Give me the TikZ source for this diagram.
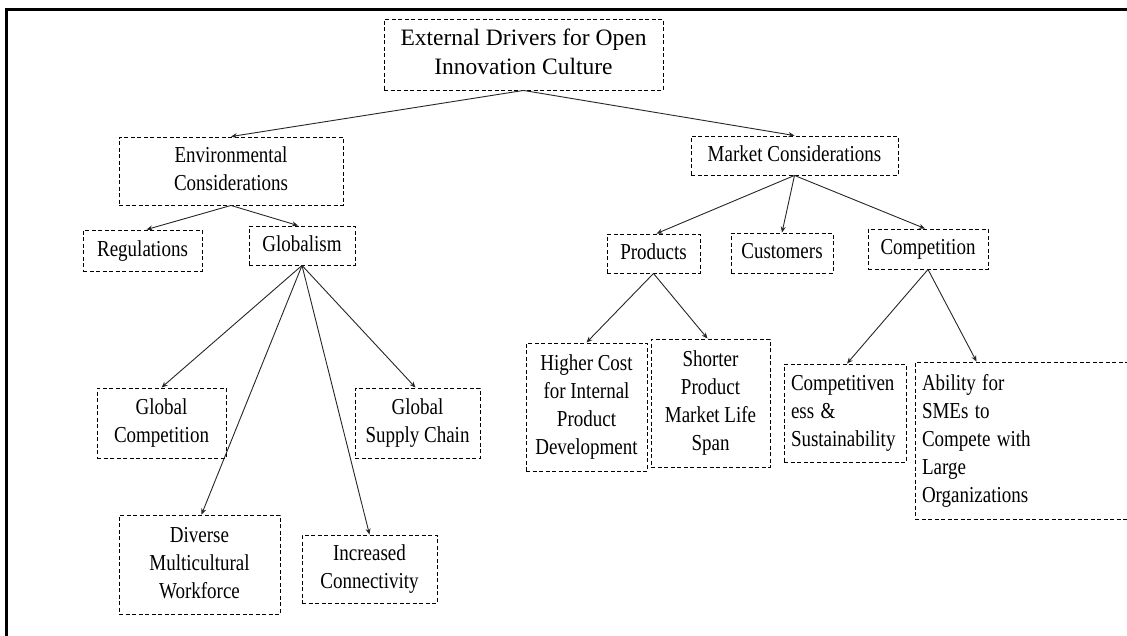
\documentclass[tikz,border=0pt]{standalone}
\usepackage{fontspec}
\setmainfont{Liberation Serif}
\usepackage{graphicx}
\usetikzlibrary{arrows.meta,calc}

% multi-line label, slightly stretched vertically
\newcommand{\stk}[2][c]{\scalebox{1}[1.2]{\begin{tabular}{@{}#1@{}}#2\end{tabular}}}

\begin{document}
\begin{tikzpicture}[x=1pt,y=-1pt,
  box/.style={draw, dash pattern=on 4pt off 2.5pt, line width=0.9pt,
    inner sep=0pt, font=\fontsize{19}{23.3}\selectfont},
  rootbox/.style={box, font=\fontsize{23.5}{28.5}\selectfont},
  lbox/.style={box, align=left, inner xsep=7pt},
  link/.style={-{Stealth[length=6pt,width=5pt]}, line width=0.9pt, draw=black!85}]

\useasboundingbox (0,0) rectangle (1127,635);
\clip (0,0) rectangle (1127,635);

% frame (top and left edges)
\draw[line width=3pt] (6.5,640) -- (6.5,9.5) -- (1130,9.5);

% root
\node[rootbox, minimum width=279pt, minimum height=71pt] (top) at (523.5,54.5)
  {\begin{tabular}{@{}c@{}}External Drivers for Open\\Innovation Culture\end{tabular}};

% second level
\node[box, minimum width=224pt, minimum height=68pt] (env) at (231,171)
  {\stk{Environmental\\Considerations}};
\node[box, minimum width=207pt, minimum height=39pt] (market) at (794.5,155.5)
  {\stk{Market Considerations}};

% environmental branch
\node[box, minimum width=119pt, minimum height=41pt] (reg) at (142.5,250.5)
  {\stk{Regulations}};
\node[box, minimum width=106pt, minimum height=39pt] (glob) at (302,245.5)
  {\stk{Globalism}};

\node[box, minimum width=129pt, minimum height=70pt] (gcomp) at (161.5,423)
  {\stk{Global\\Competition}};
\node[box, minimum width=125pt, minimum height=70pt] (gsupply) at (417.5,423)
  {\stk{Global\\Supply Chain}};
\node[box, minimum width=161pt, minimum height=99pt] (diverse) at (199.5,564.5)
  {\stk{Diverse\\Multicultural\\Workforce}};
\node[box, minimum width=135pt, minimum height=68pt] (conn) at (369.5,569)
  {\stk{Increased\\Connectivity}};

% market branch
\node[box, minimum width=93pt, minimum height=39pt] (prod) at (653.5,253.5)
  {\stk{Products}};
\node[box, minimum width=102pt, minimum height=40pt] (cust) at (782,253)
  {\stk{Customers}};
\node[box, minimum width=120pt, minimum height=40pt] (compet) at (928,249)
  {\stk{Competition}};

\node[box, minimum width=121pt, minimum height=128pt] (cost) at (586.5,407)
  {\stk{Higher Cost\\for Internal\\Product\\Development}};
\node[box, minimum width=119pt, minimum height=128pt] (short) at (710.5,403)
  {\stk{Shorter\\Product\\Market Life\\Span}};
\node[lbox, text width=108pt, minimum height=98pt] (sust) at (845,413)
  {\stk[l]{Competitiven\\ess \&\\Sustainability}};
\node[lbox, text width=203pt, minimum height=157pt] (sme) at (1023.5,440.5)
  {\stk[l]{Ability for\\SMEs to\\Compete with\\Large\\Organizations}};

% connectors
\draw[link] (top.south) -- (env.north);
\draw[link] (top.south) -- (market.north);

\draw[link] (env.south) -- ($(reg.north)+(4,0)$);
\draw[link] (env.south) -- ($(glob.north)+(-4,0)$);

\draw[link] (glob.south) -- (gcomp.north);
\draw[link] (glob.south) -- ($(diverse.north)+(2,0)$);
\draw[link] (glob.south) -- (conn.north);
\draw[link] (glob.south) -- ($(gsupply.north)+(-2,0)$);

\draw[link] (market.south) -- ($(prod.north)+(3,0)$);
\draw[link] (market.south) -- (cust.north);
\draw[link] (market.south) -- ($(compet.north)+(-3,0)$);

\draw[link] (prod.south) -- (cost.north);
\draw[link] (prod.south) -- ($(short.north)+(-3,0)$);

\draw[link] (compet.south) -- ($(sust.north)+(2,0)$);
\draw[link] (compet.south) -- ($(sme.north west)+(62,0)$);
\end{tikzpicture}
\end{document}
